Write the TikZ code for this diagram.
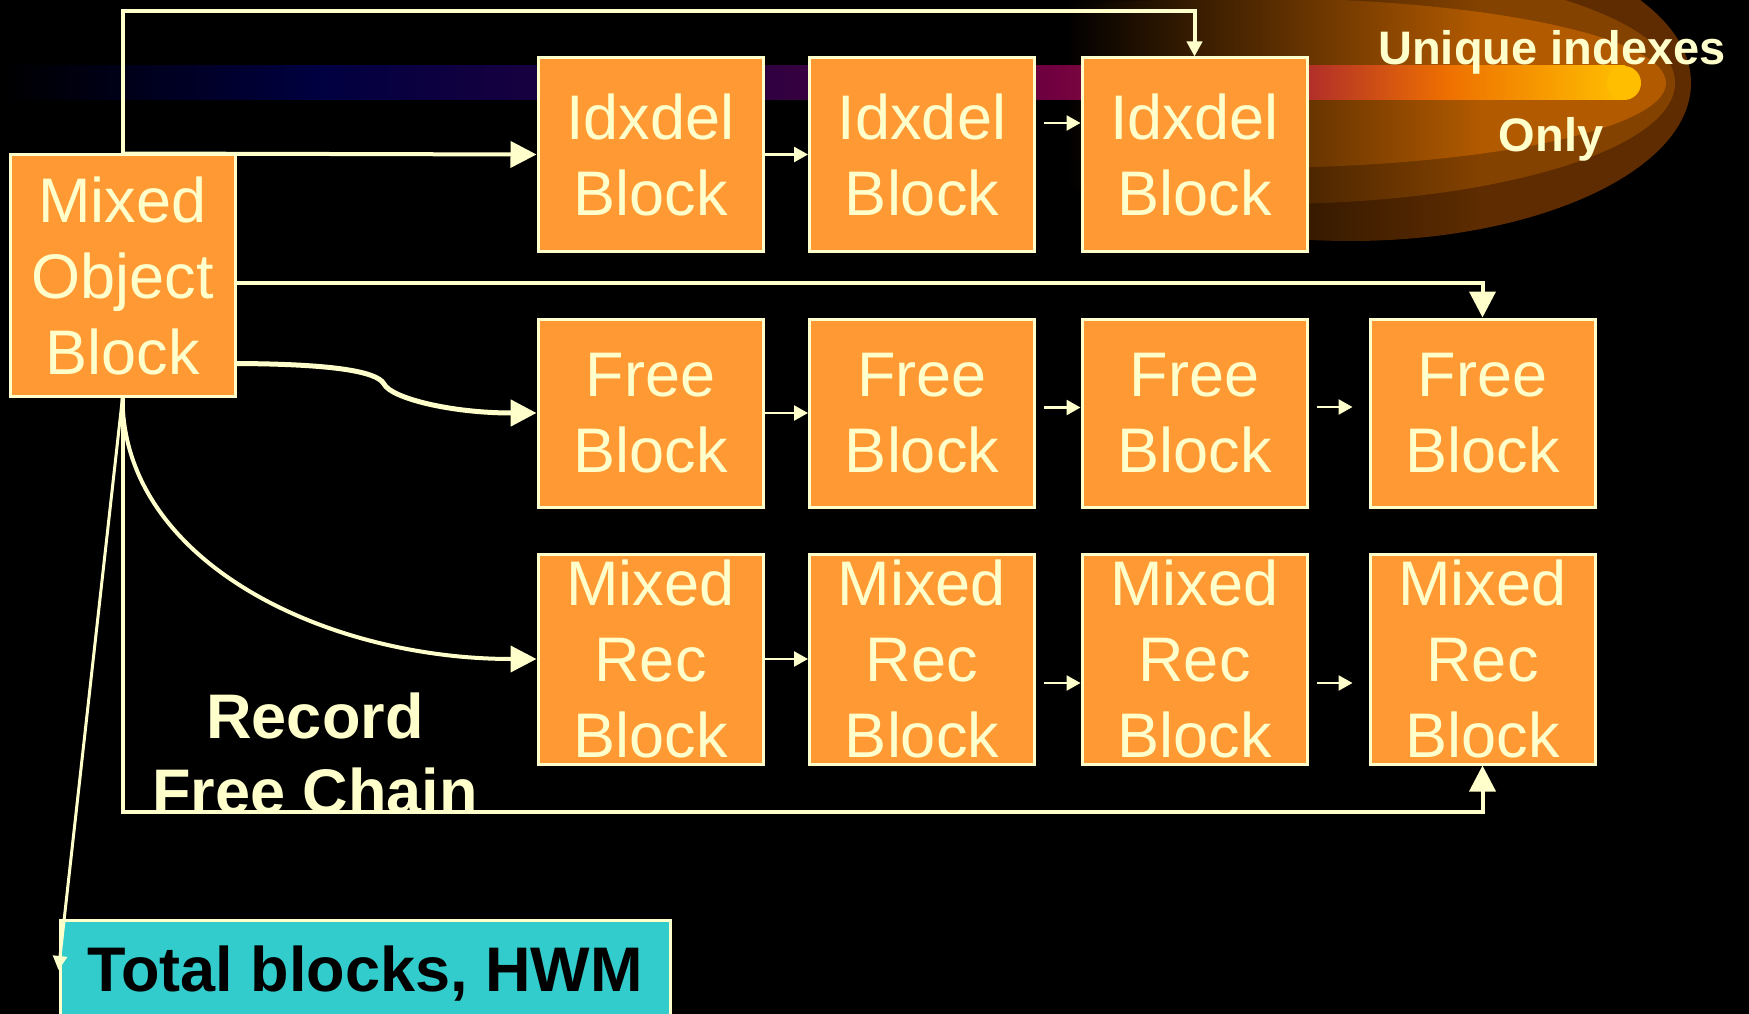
\documentclass[tikz,border=0pt]{standalone}
\usepackage{fontspec}
\setmainfont{Liberation Sans}
\usetikzlibrary{arrows.meta}
\definecolor{cream}{HTML}{FFFFCC}
\definecolor{boxorange}{HTML}{FF9933}
\definecolor{tbcyan}{HTML}{33CCCC}
\definecolor{glowA}{HTML}{5E2C00}
\definecolor{glowB}{HTML}{844200}
\definecolor{glowC}{HTML}{B25A00}
\definecolor{bandA}{HTML}{000040}
\definecolor{bandB}{HTML}{300040}
\definecolor{bandC}{HTML}{700040}
\definecolor{bandD}{HTML}{B23028}
\definecolor{bandE}{HTML}{EE7000}
\definecolor{bandF}{HTML}{FFBF00}
\begin{document}
\begin{tikzpicture}[x=1pt,y=-1pt,
  blk/.style={draw=cream, line width=3pt, fill=boxorange, text=cream,
    font=\fontsize{63}{76}\selectfont, align=center, inner sep=0pt,
    minimum width=225pt},
  conn/.style={draw=cream, color=cream, line width=4pt, -{Triangle[length=26pt,width=26pt]}},
  hop/.style={draw=cream, color=cream, line width=2.5pt, -{Triangle[length=14pt,width=15pt]}},
  lbl/.style={text=cream, font=\bfseries\fontsize{63}{75}\selectfont, align=center, inner sep=0pt},
  note/.style={text=cream, font=\bfseries\fontsize{47}{56}\selectfont, inner sep=0pt}]
\useasboundingbox (0,0) rectangle (1749,1014);
\clip (0,0) rectangle (1749,1014);
\fill[black] (0,0) rectangle (1749,1014);

% glow
\begin{scope}
  \clip (1065,-50) rectangle (1749,400);
  \foreach \cx/\rx/\ry/\col in {1350/341/158/glowA, 1270/405/121/glowB, 1250/416/85/glowC}{
    \begin{scope}
      \clip (\cx,83) ellipse [x radius=\rx pt, y radius=\ry pt];
      \shade[left color=black, right color=\col] (1065,-50) rectangle (1481,400);
      \fill[\col] (1480,-50) rectangle (1749,400);
    \end{scope}
  }
\end{scope}

% band
\shade[left color=black, right color=bandA] (0,66) rectangle (317,100);
\shade[left color=bandA, right color=bandB] (316,66) rectangle (773,100);
\shade[left color=bandB, right color=bandC] (772,66) rectangle (1053,100);
\shade[left color=bandC, right color=bandD] (1052,66) rectangle (1312,100);
\shade[left color=bandD, right color=bandE] (1311,66) rectangle (1448,100);
\shade[left color=bandE, right color=bandF] (1447,66) rectangle (1625,100);
\fill[bandF] (1624,83) circle [radius=17pt];

% blocks
\node[blk, minimum height=241pt] (mob) at (122.5,275.5) {Mixed\\Object\\Block};
\node[blk, minimum height=193pt] (idx1) at (650.5,154.5) {Idxdel\\Block};
\node[blk, minimum height=193pt] (idx2) at (922,154.5) {Idxdel\\Block};
\node[blk, minimum height=193pt] (idx3) at (1194.5,154.5) {Idxdel\\Block};
\node[blk, minimum height=188pt] (free1) at (650.5,413) {Free\\Block};
\node[blk, minimum height=188pt] (free2) at (922,413) {Free\\Block};
\node[blk, minimum height=188pt] (free3) at (1194.5,413) {Free\\Block};
\node[blk, minimum height=188pt] (free4) at (1482.5,413) {Free\\Block};
\node[blk, minimum height=210pt] (mr1) at (650.5,659) {Mixed\\Rec\\Block};
\node[blk, minimum height=210pt] (mr2) at (922,659) {Mixed\\Rec\\Block};
\node[blk, minimum height=210pt] (mr3) at (1194.5,659) {Mixed\\Rec\\Block};
\node[blk, minimum height=210pt] (mr4) at (1482.5,659) {Mixed\\Rec\\Block};
\node[draw=cream, line width=3pt, fill=tbcyan, text=black,
  font=\bfseries\fontsize{63}{76}\selectfont, inner sep=0pt,
  minimum width=610pt, minimum height=107pt] (tb) at (365,973.5) {Total blocks, HWM};

\coordinate (topy) at (0,11);
\coordinate (boty) at (0,812);

% chain arrows
\draw[hop] (idx1.east) -- (idx2.west);
\draw[hop] ([xshift=8pt,yshift=31.5pt]idx2.east) -- ([yshift=31.5pt]idx3.west);
\draw[hop] (free1.east) -- (free2.west);
\draw[hop] ([xshift=8pt,yshift=5.5pt]free2.east) -- ([yshift=5.5pt]free3.west);
\draw[hop] ([xshift=8pt,yshift=6pt]free3.east) -- ([xshift=-16pt,yshift=6pt]free4.west);
\draw[hop] (mr1.east) -- (mr2.west);
\draw[hop] ([xshift=8pt,yshift=-24pt]mr2.east) -- ([yshift=-24pt]mr3.west);
\draw[hop] ([xshift=8pt,yshift=-24pt]mr3.east) -- ([xshift=-16pt,yshift=-24pt]mr4.west);

% main connectors
\draw[conn] (mob.north) -- (idx1.west);
\draw[draw=cream, color=cream, line width=4pt, -{Triangle[length=15pt,width=15pt]}]
  (mob.north) -- (mob.north |- topy) -| (idx3.north);
\draw[conn] ([yshift=-7.5pt]mob.east) -| (free4.north);
\draw[conn, line width=5pt] ([yshift=-88pt]mob.east)
  .. controls (330,364) and (377,371) .. (384,384)
  .. controls (391,398) and (450,413) .. (free1.west);
\draw[conn] (mob.south) .. controls ([yshift=-165pt]mob.south) and ([xshift=-210pt]mr1.west) .. (mr1.west);
\draw[conn] (mob.south) -- (mob.south |- boty) -| (mr4.south);
\draw[draw=cream, color=cream, line width=3pt, -{Triangle[length=14pt,width=14pt]}]
  (mob.south) -- ([yshift=3.5pt]tb.west);

% labels
\node[lbl] (rfc) at (315,753) {Record\\Free Chain};
\node[note, anchor=base] (uq) at (1552,65) {Unique indexes};
\node[note, anchor=base] (only) at (1551,152) {Only};
\end{tikzpicture}
\end{document}
